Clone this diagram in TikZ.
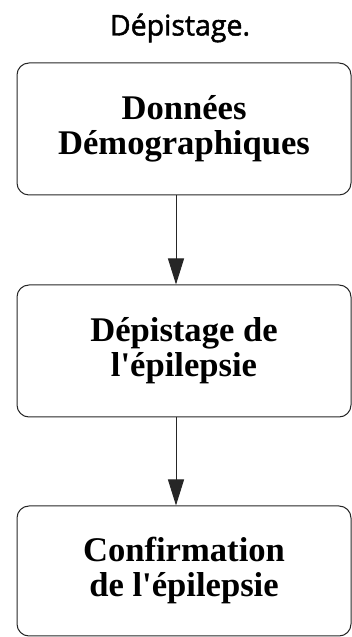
\documentclass[tikz,border=0pt]{standalone}
\usepackage{fontspec}
\setmainfont{Liberation Serif}
\newfontfamily\titlefont{Open Sans}[FakeBold=1.6]
\usetikzlibrary{arrows.meta}

\begin{document}
\begin{tikzpicture}[x=1pt, y=1pt,
    stage/.style={draw=black!85, line width=1pt, rounded corners=12pt,
      minimum width=334pt, minimum height=132pt, inner sep=0pt,
      align=center, font=\fontsize{34.6}{35}\selectfont\bfseries},
    flow/.style={draw=black!85, line width=1pt,
      -{Triangle[width=16pt, length=26pt]}}]
\useasboundingbox (0, 0) rectangle (352, 637);

% Title above the three steps
\node[font=\fontsize{28.5}{30}\selectfont\titlefont] (title) at (180, 609) {Dépistage.};

% The three steps of the screening
\node[stage] (demo) at (184, 508) {Données\\Démographiques};
\node[stage] (screen) at (184, 286) {Dépistage de\\l\textquotesingle épilepsie};
\node[stage, minimum height=130pt] (confirm) at (184, 66) {Confirmation\\de l\textquotesingle épilepsie};

% Arrows between the steps
\draw[flow] ([xshift=-8pt]demo.south) -- ([xshift=-8pt]screen.north);
\draw[flow] ([xshift=-8pt]screen.south) -- ([xshift=-8pt]confirm.north);
\end{tikzpicture}
\end{document}
